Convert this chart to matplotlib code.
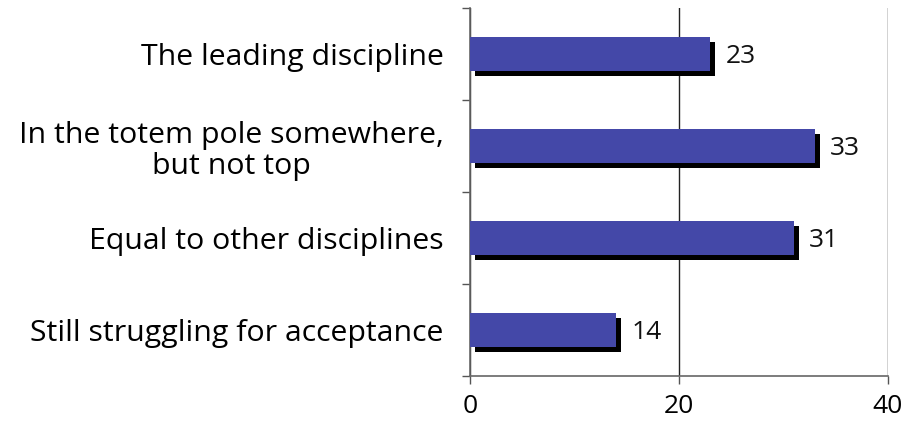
import matplotlib
matplotlib.use("Agg")
import matplotlib.pyplot as plt
import matplotlib.patheffects as pe
from matplotlib.ticker import FixedLocator
import numpy as np

categories = ["The leading discipline",
              "In the totem pole somewhere,\nbut not top",
              "Equal to other disciplines",
              "Still struggling for acceptance"]
values = [23, 33, 31, 14]
xticks = [0, 20, 40]

plt.rcParams['font.family'] = ['Open Sans', 'DejaVu Sans']

fig = plt.figure(figsize=(9.2, 4.38), dpi=100)
ax = fig.add_axes([470 / 920, 1 - 376 / 438, (888 - 470) / 920, (376 - 8) / 438])

ypos = np.arange(len(categories))
shadow = [pe.SimplePatchShadow(offset=(3.6, -3.6), shadow_rgbFace='black', alpha=1.0),
          pe.Normal()]
bars = ax.barh(ypos, values, height=0.38, color='#4448a8', zorder=3)
for b in bars:
    b.set_path_effects(shadow)

for y, v in zip(ypos, values):
    ax.annotate(str(v), (v, y), xytext=(11, -2), textcoords='offset points',
                ha='left', va='center', fontsize=19, color='#111111')

ax.set_xlim(0, 40)
ax.set_ylim(len(categories) - 0.5, -0.5)
ax.set_xticks(xticks)
ax.set_xticklabels([str(t) for t in xticks], fontsize=19)
ax.set_yticks(ypos)
ax.set_yticklabels(categories, fontsize=21.8, multialignment='center', linespacing=1.1)
ax.yaxis.set_minor_locator(FixedLocator(np.arange(-0.5, len(categories), 1.0)))

ax.tick_params(axis='y', which='major', length=0, pad=19)
ax.tick_params(axis='y', which='minor', length=6, width=1, color='#555555', direction='out')
ax.tick_params(axis='x', length=6, width=1, color='#555555', direction='out', pad=7)

ax.xaxis.grid(True, color='#222222', linewidth=1)
ax.set_axisbelow(True)
for side in ['top', 'right']:
    ax.spines[side].set_visible(False)
for side in ['left', 'bottom']:
    ax.spines[side].set_color('#666666')
    ax.spines[side].set_linewidth(1.2)

fig.savefig("out.png", dpi=100, facecolor='white')
